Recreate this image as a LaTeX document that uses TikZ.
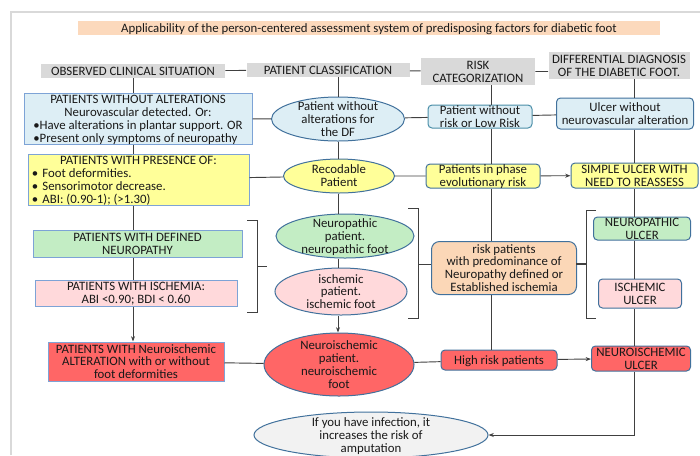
\documentclass[tikz,border=0pt]{standalone}
\usepackage{fontspec}
\setmainfont{Carlito}
\usetikzlibrary{shapes.geometric,arrows.meta}
\newlength\pxl
\setlength\pxl{0.75pt}
\newcommand{\lbl}[2][c]{\raisebox{-3.8pt}[0pt][0pt]{\begin{tabular}{@{}#1@{}}#2\end{tabular}}}
\definecolor{bluefill}{HTML}{DDEEF5}
\definecolor{yellowfill}{HTML}{FFFF99}
\definecolor{greenfill}{HTML}{C3EDC4}
\definecolor{pinkfill}{HTML}{FFD9DB}
\definecolor{redfill}{HTML}{FF6666}
\definecolor{orangefill}{HTML}{FBD7B7}
\definecolor{headgray}{HTML}{D9D9D9}
\definecolor{titlefill}{HTML}{FCD9BC}
\definecolor{ovalgray}{HTML}{F2F2F2}
\definecolor{boxline}{HTML}{7DA3D6}
\definecolor{ovalline}{HTML}{41719C}
\definecolor{tealline}{HTML}{4A8EA8}
\definecolor{linkgray}{HTML}{404040}

\begin{document}
\begin{tikzpicture}[x=0.75pt,y=-0.75pt,
    every node/.style={inner sep=0pt,font=\fontsize{9.6}{9.6}\selectfont,text=black!90},
    head/.style={fill=headgray,minimum height=14*\pxl},
    box/.style={draw=boxline,line width=0.75pt},
    rbox/.style={draw=ovalline,line width=0.75pt,rounded corners=3pt},
    oval/.style={ellipse,draw=ovalline,line width=0.75pt},
    link/.style={draw=linkgray,line width=0.7pt},
    >={Stealth[length=4pt,width=3pt]}]
  \useasboundingbox (0,0) rectangle (700,455);
  \draw[black!15,line width=1pt] (11,455) -- (11,12) -- (700,12);

  \node[fill=titlefill,minimum width=582*\pxl,minimum height=14*\pxl] (title) at (369,28)
    {\lbl{Applicability of the person-centered assessment system of predisposing factors for diabetic foot}};

  \node[head,minimum width=184*\pxl] (h1) at (133,71) {\lbl{OBSERVED CLINICAL SITUATION}};
  \node[head,minimum width=163*\pxl] (h2) at (328,70) {\lbl{PATIENT CLASSIFICATION}};
  \node[head,minimum width=114*\pxl,minimum height=27*\pxl] (h3) at (478,71.5) {\lbl{RISK\\CATEGORIZATION}};
  \node[head,minimum width=141*\pxl,minimum height=27*\pxl] (h4) at (619,65.5) {\lbl{DIFFERENTIAL DIAGNOSIS\\OF THE DIABETIC FOOT.}};

  \node[box,fill=bluefill,minimum width=228*\pxl,minimum height=51*\pxl] (b1) at (138,118.5)
    {\lbl[l]{\multicolumn{1}{@{}c@{}}{PATIENTS WITHOUT ALTERATIONS}\\
      \multicolumn{1}{@{}c@{}}{Neurovascular detected. Or:}\\
      •Have alterations in plantar support. OR\\
      •Present only symptoms of neuropathy}};
  \node[box,fill=yellowfill,minimum width=221*\pxl,minimum height=51*\pxl] (b2) at (138.5,179.5)
    {\lbl[p{160pt}]{\multicolumn{1}{@{}c@{}}{PATIENTS WITH PRESENCE OF:}\\
      \makebox[8pt][l]{•}Foot deformities.\\
      \makebox[8pt][l]{•}Sensorimotor decrease.\\
      \makebox[8pt][l]{•}ABI: (0.90-1); (>1.30)}};
  \node[box,fill=greenfill,minimum width=209*\pxl,minimum height=27*\pxl] (b3) at (137.5,243.5)
    {\lbl{PATIENTS WITH DEFINED\\NEUROPATHY}};
  \node[box,fill=pinkfill,minimum width=202*\pxl,minimum height=26*\pxl] (b4) at (136,293)
    {\lbl{PATIENTS WITH ISCHEMIA:\\ABI <0.90; BDI < 0.60}};
  \node[box,fill=redfill,minimum width=176*\pxl,minimum height=39*\pxl] (b5) at (136,361.5)
    {\lbl{PATIENTS WITH Neuroischemic\\ALTERATION with or without\\foot deformities}};

  \node[oval,fill=bluefill,minimum width=133*\pxl,minimum height=44*\pxl] (e1) at (338,119)
    {\lbl{Patient without\\alterations for\\the DF}};
  \node[oval,fill=yellowfill,minimum width=111*\pxl,minimum height=34*\pxl] (e2) at (339,176)
    {\lbl{Recodable\\Patient}};
  \node[oval,fill=greenfill,minimum width=138*\pxl,minimum height=44*\pxl] (e3) at (345,236)
    {\lbl{Neuropathic\\patient.\\neuropathic foot}};
  \node[oval,fill=pinkfill,minimum width=132*\pxl,minimum height=47*\pxl] (e4) at (341,291.5)
    {\lbl{ischemic\\patient.\\ischemic foot}};
  \node[oval,fill=redfill,minimum width=150*\pxl,minimum height=63*\pxl] (e5) at (339,364.5)
    {\lbl{Neuroischemic\\patient.\\neuroischemic\\foot}};
  \node[oval,fill=ovalgray,minimum width=234*\pxl,minimum height=46*\pxl] (e6) at (371,435)
    {\lbl{If you have infection, it\\increases the risk of\\amputation}};

  \node[rbox,draw=tealline,fill=bluefill,minimum width=104*\pxl,minimum height=23*\pxl] (r1) at (480,116.5)
    {\lbl{Patient without\\risk or Low Risk}};
  \node[rbox,fill=yellowfill,minimum width=114*\pxl,minimum height=24*\pxl] (r2) at (483,176)
    {\lbl{Patients in phase\\evolutionary risk}};
  \node[rbox,rounded corners=6pt,fill=orangefill,minimum width=145*\pxl,minimum height=53*\pxl] (r3) at (504,268)
    {\lbl{risk patients\\with predominance of\\Neuropathy defined or\\Established ischemia}};
  \node[rbox,fill=redfill,minimum width=116*\pxl,minimum height=20*\pxl] (r4) at (499,360)
    {\lbl{High risk patients}};

  \node[rbox,fill=bluefill,minimum width=137*\pxl,minimum height=31*\pxl] (d1) at (625,113.5)
    {\lbl{Ulcer without\\neurovascular alteration}};
  \node[rbox,fill=yellowfill,minimum width=127*\pxl,minimum height=25*\pxl] (d2) at (634.5,175.5)
    {\lbl{SIMPLE ULCER WITH\\NEED TO REASSESS}};
  \node[rbox,fill=greenfill,minimum width=97*\pxl,minimum height=23*\pxl] (d3) at (642,228.5)
    {\lbl{NEUROPATHIC\\ULCER}};
  \node[rbox,fill=pinkfill,minimum width=83*\pxl,minimum height=29*\pxl] (d4) at (640,293.5)
    {\lbl{ISCHEMIC\\ULCER}};
  \node[rbox,fill=redfill,minimum width=99*\pxl,minimum height=25*\pxl] (d5) at (641,358.5)
    {\lbl{NEUROISCHEMIC\\ULCER}};

  \coordinate (rc) at (491,0);
  \coordinate (dc) at (634,0);

  \draw[link] (h1) -- (h2) (h2) -- (h3) (h3.east) -- (h3.east -| h4.west);
  \draw[link] (h1.south) -- (h1.south |- b1.north);
  \foreach \a/\b in {b1/b2,b2/b3,b3/b4}
    \draw[link] (h1.south |- \a.south) -- (h1.south |- \b.north);
  \draw[link,->] (h1.south |- b4.south) -- (h1.south |- b5.north);
  \foreach \a/\b in {h2/e1,e1/e2,e2/e3,e3/e4}
    \draw[link] (e1.north |- \a.south) -- (e1.north |- \b.north);
  \draw[link,->] (e1.north |- e4.south) -- (e1.north |- e5.north);
  \foreach \a/\b in {h3/r1,r1/r2,r2/r3,r3/r4}
    \draw[link] (rc |- \a.south) -- (rc |- \b.north);
  \foreach \a/\b in {h4/d1,d1/d2,d2/d3,d3/d4,d4/d5}
    \draw[link] (dc |- \a.south) -- (dc |- \b.north);
  \draw[link,->] (dc |- d5.south) |- (e6.east);

  \draw[link] (b1) -- (e1) (e1) -- (r1) (r1) -- (d1);
  \draw[link] (b2) -- (e2) (e2) -- (r2);
  \draw[link,->] (r2) -- (d2);
  \draw[link] (b5) -- (e5) (e5) -- (r4);
  \draw[link,->] (r4) -- (d5);

  \draw[link] (247,220) -- (257,220) -- (257,312) -- (247,312) (257,266) -- (267,266);
  \draw[link] (408,208) -- (418,208) -- (418,318) -- (408,318) (418,264) -- (431,264);
  \draw[link] (596,210) -- (586,210) -- (586,318) -- (596,318);
  \draw[link,line width=2pt] (576,264) -- (586,264);
\end{tikzpicture}
\end{document}
